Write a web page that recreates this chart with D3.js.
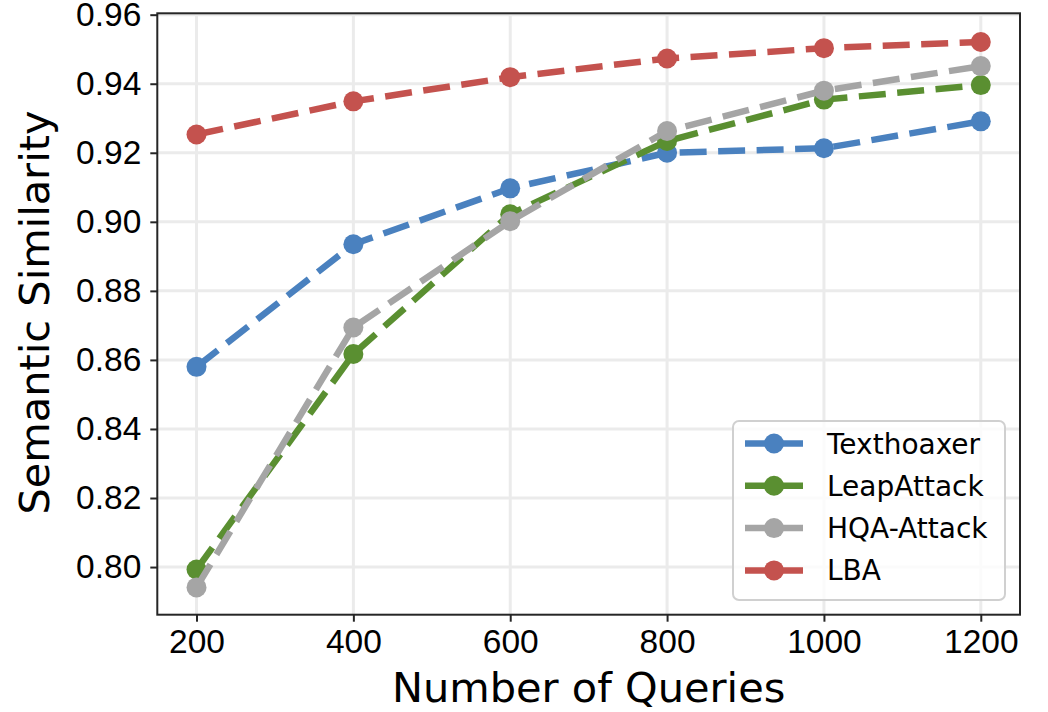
<!DOCTYPE html>
<html>
<head>
<meta charset="utf-8">
<script src="https://cdn.jsdelivr.net/npm/d3@7"></script>
<style>
  body { margin: 0; background: #fff; }
  svg { font-family: "DejaVu Sans", sans-serif; }
</style>
</head>
<body>
<svg id="chart"></svg>
<script>
// Data
const queries = [200, 400, 600, 800, 1000, 1200];
const seriesNames = ["Texthoaxer", "LeapAttack", "HQA-Attack", "LBA"];
const texthoaxer = [0.8580, 0.8935, 0.9097, 0.9200, 0.9213, 0.9291];
const leapAttack = [0.7993, 0.8617, 0.9022, 0.9234, 0.9354, 0.9396];
const hqaAttack  = [0.7941, 0.8694, 0.9002, 0.9263, 0.9380, 0.9451];
const lba        = [0.9253, 0.9349, 0.9419, 0.9473, 0.9503, 0.9521];
const yTicks = [0.80, 0.82, 0.84, 0.86, 0.88, 0.90, 0.92, 0.94, 0.96];

const colors = ["#4a81bf", "#5a8f31", "#a5a5a5", "#c4524e"];
const series = [texthoaxer, leapAttack, hqaAttack, lba].map((vals, i) => ({
    name: seriesNames[i],
    color: colors[i],
    values: vals.map((v, j) => ({ x: queries[j], y: v }))
}));

const W = 1048, H = 712;
const margin = { top: 13.3, right: 28, bottom: 97.3, left: 157.3 };
const width = W - margin.left - margin.right;
const height = H - margin.top - margin.bottom;

const svg = d3.select("#chart").attr("width", W).attr("height", H);
const g = svg.append("g")
    .attr("transform", "translate(" + margin.left + "," + margin.top + ")");

// matplotlib-like 5% margins
const x = d3.scaleLinear().domain([150, 1250]).range([0, width]);
const yMin = 0.7862, yMax = 0.9604;
const y = d3.scaleLinear().domain([yMin, yMax]).range([height, 0]);

// grid
g.append("g").selectAll("line").data(queries).enter().append("line")
    .attr("x1", d => x(d)).attr("x2", d => x(d))
    .attr("y1", 0).attr("y2", height)
    .attr("stroke", "#ebebeb").attr("stroke-width", 3);
g.append("g").selectAll("line").data(yTicks).enter().append("line")
    .attr("y1", d => y(d)).attr("y2", d => y(d))
    .attr("x1", 0).attr("x2", width)
    .attr("stroke", "#ebebeb").attr("stroke-width", 3);

// axes
const xAxis = g.append("g")
    .attr("transform", "translate(0," + height + ")")
    .call(d3.axisBottom(x).tickValues(queries).tickFormat(d3.format("d")).tickSize(7).tickPadding(8));
const yAxis = g.append("g")
    .call(d3.axisLeft(y).tickValues(yTicks).tickFormat(d3.format(".2f")).tickSize(7).tickPadding(9));
[xAxis, yAxis].forEach(a => {
    a.select(".domain").remove();
    a.selectAll(".tick line").attr("stroke", "#262626").attr("stroke-width", 2);
    a.selectAll(".tick text").attr("fill", "#000").style("font-size", "33.5px");
});

// lines and markers
const line = d3.line().x(d => x(d.x)).y(d => y(d.y));
series.forEach(s => {
    g.append("path")
        .datum(s.values)
        .attr("d", line)
        .attr("fill", "none")
        .attr("stroke", s.color)
        .attr("stroke-width", 6.5)
        .attr("stroke-dasharray", "27,11.5");
    g.append("g").selectAll("circle").data(s.values).enter().append("circle")
        .attr("cx", d => x(d.x)).attr("cy", d => y(d.y))
        .attr("r", 10).attr("fill", s.color);
});

// frame
g.append("rect")
    .attr("width", width).attr("height", height)
    .attr("fill", "none").attr("stroke", "#262626").attr("stroke-width", 2);

// axis labels
svg.append("text")
    .attr("x", margin.left + width / 2).attr("y", 702)
    .attr("text-anchor", "middle").style("font-size", "41.5px")
    .text("Number of Queries");
svg.append("text")
    .attr("transform", "translate(49," + (margin.top + height / 2 - 1.5) + ") rotate(-90)")
    .attr("text-anchor", "middle").style("font-size", "41.5px")
    .text("Semantic Similarity");

// legend
const legend = svg.append("g").attr("transform", "translate(733,421)");
legend.append("rect")
    .attr("width", 272).attr("height", 179).attr("rx", 6)
    .attr("fill", "#fff").attr("fill-opacity", 0.8)
    .attr("stroke", "#d0d0d0").attr("stroke-width", 2);
const rows = legend.selectAll(".row").data(series).enter().append("g")
    .attr("transform", (d, i) => "translate(0," + (22.5 + i * 42.3) + ")");
rows.append("line")
    .attr("x1", 12).attr("x2", 70)
    .attr("stroke", d => d.color).attr("stroke-width", 6.5);
rows.append("circle")
    .attr("cx", 41).attr("r", 10).attr("fill", d => d.color);
rows.append("text")
    .attr("x", 94).attr("y", 10).style("font-size", "28px")
    .text(d => d.name);
</script>
</body>
</html>
